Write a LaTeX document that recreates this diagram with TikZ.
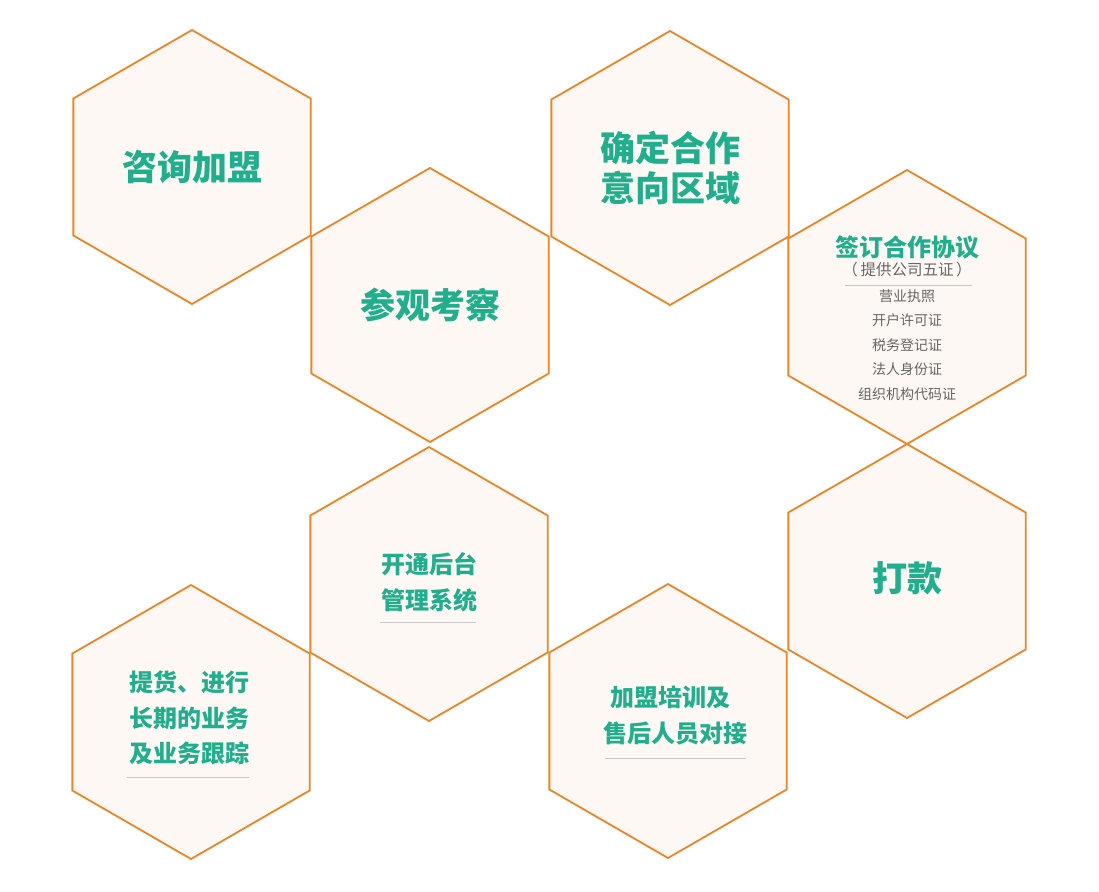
\documentclass[tikz,border=0pt]{standalone}
\usepackage{fontspec}
\setmainfont{Noto Sans CJK SC}
\usetikzlibrary{shapes.geometric}
\definecolor{hexorange}{HTML}{EE8424}
\definecolor{hexfillc}{HTML}{FDF8F4}
\definecolor{titlegreen}{HTML}{1FAF8C}
\definecolor{subgray}{HTML}{666666}
\definecolor{rulegray}{HTML}{C8C8C8}
\tikzset{
  hexa/.style={regular polygon, regular polygon sides=6, shape border rotate=30,
    minimum size=274pt, inner sep=0pt, outer sep=0pt, draw=hexorange, line width=1.8pt, fill=hexfillc},
  bigtitle/.style={text=titlegreen, font=\fontsize{35}{40}\selectfont\bfseries, align=center, inner sep=0pt},
  midtitle/.style={text=titlegreen, font=\fontsize{24}{35.5}\selectfont\bfseries, align=center, inner sep=0pt},
  smalltxt/.style={text=subgray, font=\fontsize{14}{24.5}\selectfont, align=center, inner sep=0pt},
  rulestyle/.style={draw=rulegray, line width=0.8pt}
}
\begin{document}
\begin{tikzpicture}[x=1pt,y=-1pt]
\useasboundingbox[fill=white] (0,0) rectangle (1099,891);
% hexagons
\node[hexa] (h1) at (192,167) {};
\node[hexa] (h2) at (430,305) {};
\node[hexa] (h3) at (670,168) {};
\node[hexa] (h4) at (907,307) {};
\node[hexa] (h5) at (907,581) {};
\node[hexa] (h6) at (668,721) {};
\node[hexa] (h7) at (429,584) {};
\node[hexa] (h8) at (191,722) {};
% texts
\node[bigtitle] (t1) at (192,167) {咨询加盟};
\node[bigtitle] (t2) at (430,305) {参观考察};
\node[bigtitle] (t3) at (670,168) {确定合作\\意向区域};
\node[midtitle] (t4) at (907,247) {签订合作协议};
\node[text=subgray, font=\fontsize{15.5}{18}\selectfont, inner sep=0pt] (t4b) at (907,270) {（\,提供公司五证\,）};
\coordinate (r4a) at (845,285);
\coordinate (r4b) at (972,285);
\draw[rulestyle] (r4a) -- (r4b);
\node[smalltxt] (t4c) at (907,345) {营业执照\\开户许可证\\税务登记证\\法人身份证\\组织机构代码证};
\node[bigtitle] (t5) at (907,578) {打款};
\node[midtitle] (t7) at (429,582) {开通后台\\管理系统};
\coordinate (r7a) at (380,622);
\coordinate (r7b) at (476,622);
\draw[rulestyle] (r7a) -- (r7b);
\node[midtitle] (t8) at (189,718) {提货、进行\\长期的业务\\及业务跟踪};
\coordinate (r8a) at (127,777);
\coordinate (r8b) at (249,777);
\draw[rulestyle] (r8a) -- (r8b);
\node[midtitle] (t6a) at (670,697) {加盟培训及};
\node[midtitle] (t6b) at (675,733) {售后人员对接};
\coordinate (r6a) at (605,758);
\coordinate (r6b) at (746,758);
\draw[rulestyle] (r6a) -- (r6b);
\end{tikzpicture}
\end{document}
